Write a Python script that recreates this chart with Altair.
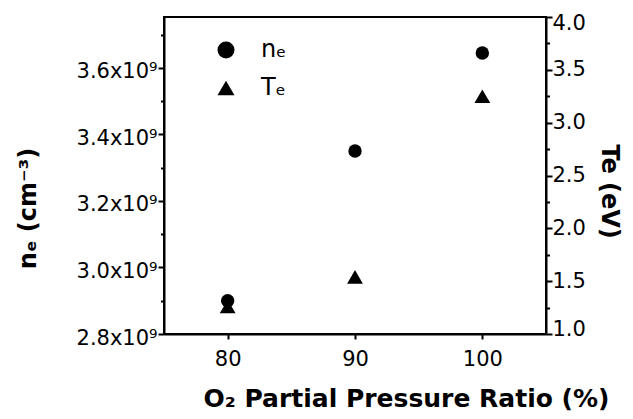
import altair as alt
import pandas as pd

ratio = [80, 90, 100]
ne = [2.90e9, 3.35e9, 3.645e9]
te = [1.26, 1.54, 3.25]

ne_ticks = [2.8e9, 2.9e9, 3.0e9, 3.1e9, 3.2e9, 3.3e9, 3.4e9, 3.5e9, 3.6e9, 3.7e9]
te_ticks = [1.0, 1.25, 1.5, 1.75, 2.0, 2.25, 2.5, 2.75, 3.0, 3.25, 3.5, 3.75, 4.0]
x_ticks = [80, 90, 100]

df = pd.DataFrame({"ratio": ratio, "ne": ne, "te": te})

FONT = "DejaVu Sans"

xenc = alt.X("ratio:Q",
             scale=alt.Scale(domain=[75, 105], nice=False, zero=False),
             axis=alt.Axis(values=x_ticks, title="O₂ Partial Pressure Ratio (%)",
                           tickSize=5, labelPadding=9, titlePadding=17,
                           titleX=242, titleFontSize=25))

shape_scale = alt.Scale(domain=["nₑ", "Tₑ"], range=["circle", "triangle-up"])

ne_layer = alt.Chart(df).mark_point(filled=True, color="black", size=180, opacity=1).encode(
    x=xenc,
    y=alt.Y("ne:Q", scale=alt.Scale(domain=[2.8e9, 3.753e9], nice=False, zero=False),
            axis=alt.Axis(values=ne_ticks, title="nₑ (cm⁻³)",
                          labelExpr="abs(round(datum.value/1e8) % 2) == 0 ? format(datum.value/1e9, '.1f') + 'x10⁹' : ''",
                          tickSize={"condition": {"test": "abs(round(datum.value/1e8) % 2) == 0", "value": 6}, "value": 3.5},
                          labelPadding=1, labelOffset=4, titleX=-124, titleY=191)),
    shape=alt.Shape("s:N", scale=shape_scale,
                    legend=alt.Legend(orient="none", legendX=50, legendY=21, title=None,
                                      symbolSize=290, symbolFillColor="black", symbolStrokeColor="black",
                                      labelFontSize=24, labelFont=FONT, rowPadding=14, labelOffset=23)),
).transform_calculate(s="'nₑ'")

te_layer = alt.Chart(df).mark_point(filled=True, color="black", size=250, opacity=1).encode(
    x=xenc,
    y=alt.Y("te:Q", scale=alt.Scale(domain=[1.0, 4.0], nice=False, zero=False),
            axis=alt.Axis(orient="right", values=te_ticks, title="Te (eV)",
                          labelExpr="round(datum.value*4) % 2 == 0 ? format(datum.value, '.1f') : ''",
                          tickSize={"condition": {"test": "round(datum.value*4) % 2 == 0", "value": 6}, "value": 3.5},
                          labelPadding=0, labelFlush=True, labelFlushOffset=5,
                          titlePadding=11, titleY=174)),
    shape=alt.Shape("s:N", scale=shape_scale),
).transform_calculate(s="'Tₑ'")

chart = alt.layer(ne_layer, te_layer).resolve_scale(y="independent").properties(
    width=382, height=317,
    autosize=alt.AutoSizeParams(type="none"),
    padding={"left": 156, "top": 9, "right": 79, "bottom": 77},
).configure_view(stroke="black", strokeWidth=2).configure_axis(
    domainColor="black", domainWidth=2, tickColor="black", tickWidth=2,
    labelFont=FONT, labelFontSize=21, labelColor="black",
    titleFont=FONT, titleFontSize=24, titleFontWeight="bold", titleColor="black",
    grid=False,
).configure_legend(labelColor="black")

chart.save("out.html", embed_options={"renderer": "svg", "actions": False})
